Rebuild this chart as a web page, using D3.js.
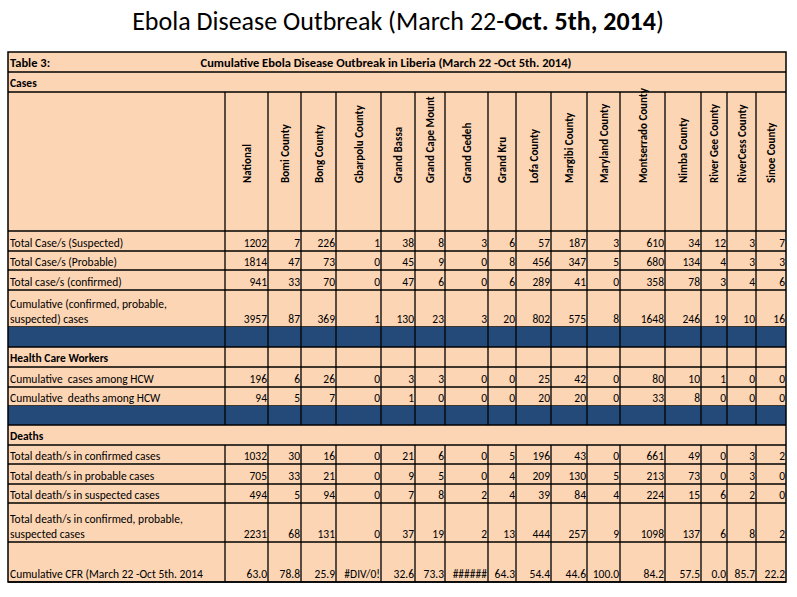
<!DOCTYPE html>
<html><head><meta charset="utf-8">
<script src="https://cdn.jsdelivr.net/npm/d3@7"></script>
<style>body{margin:0;background:#fff} text{white-space:pre}</style>
</head><body><svg width="797" height="597"></svg>
<script>
const counties = ["National","Bomi County","Bong County","Gbarpolu County","Grand Bassa","Grand Cape Mount","Grand Gedeh","Grand Kru","Lofa County","Margibi County","Maryland County","Montserrado County","Nimba County","River Gee County","RiverCess County","Sinoe County"];
const suspected = [1202,7,226,1,38,8,3,6,57,187,3,610,34,12,3,7];
const probable = [1814,47,73,0,45,9,0,8,456,347,5,680,134,4,3,3];
const confirmed = [941,33,70,0,47,6,0,6,289,41,0,358,78,3,4,6];
const cumulative = [3957,87,369,1,130,23,3,20,802,575,8,1648,246,19,10,16];
const hcwCases = [196,6,26,0,3,3,0,0,25,42,0,80,10,1,0,0];
const hcwDeaths = [94,5,7,0,1,0,0,0,20,20,0,33,8,0,0,0];
const deathConfirmed = [1032,30,16,0,21,6,0,5,196,43,0,661,49,0,3,2];
const deathProbable = [705,33,21,0,9,5,0,4,209,130,5,213,73,0,3,0];
const deathSuspected = [494,5,94,0,7,8,2,4,39,84,4,224,15,6,2,0];
const deathTotal = [2231,68,131,0,37,19,2,13,444,257,9,1098,137,6,8,2];
const cfr = ["63.0","78.8","25.9","#DIV/0!","32.6","73.3","######","64.3","54.4","44.6","100.0","84.2","57.5","0.0","85.7","22.2"];

const rows = [
  {type:"title", h:20},
  {type:"section", label:"Cases", h:20},
  {type:"header", h:139},
  {type:"data", label:["Total Case/s (Suspected)"], values:suspected, h:20},
  {type:"data", label:["Total Case/s (Probable)"], values:probable, h:19},
  {type:"data", label:["Total case/s (confirmed)"], values:confirmed, h:20},
  {type:"data", label:["Cumulative (confirmed, probable,","suspected) cases"], values:cumulative, h:37},
  {type:"band", h:20},
  {type:"sectionGrid", label:"Health Care Workers", h:20},
  {type:"data", label:["Cumulative  cases among HCW"], values:hcwCases, h:20},
  {type:"data", label:["Cumulative  deaths among HCW"], values:hcwDeaths, h:19},
  {type:"band", h:19},
  {type:"section", label:"Deaths", h:20},
  {type:"data", label:["Total death/s in confirmed cases"], values:deathConfirmed, h:19},
  {type:"data", label:["Total death/s in probable cases"], values:deathProbable, h:20},
  {type:"data", label:["Total death/s in suspected cases"], values:deathSuspected, h:19},
  {type:"data", label:["Total death/s in confirmed, probable,","suspected cases"], values:deathTotal, h:39},
  {type:"data", label:["Cumulative CFR (March 22 -Oct 5th. 2014"], values:cfr, h:40}
];
const colWidths = [217,43,33,35,45,34,30,43,28,35,36,33,45,36,26,29,30];

const svg = d3.select("svg");
const x0 = 8, y0 = 52;
const colX = [x0, ...d3.cumsum(colWidths).map(d => x0 + d)];
const rowY = [y0, ...d3.cumsum(rows.map(r => r.h)).map(d => y0 + d)];
const right = colX[colX.length - 1], bottom = rowY[rowY.length - 1];
const font = "Carlito, Lato, 'Open Sans', sans-serif";
const fill = "#fcd5b4", band = "#244a7a";

svg.append("text").attr("x", 398).attr("y", 30).attr("text-anchor", "middle")
  .attr("font-family", font).attr("font-size", 26)
  .call(t => { t.append("tspan").text("Ebola Disease Outbreak (March 22-");
               t.append("tspan").attr("font-weight", "bold").text("Oct. 5th, 2014");
               t.append("tspan").text(")"); });

const g = svg.append("g").attr("font-family", font).attr("font-size", 11.5).attr("fill", "#000");
g.append("rect").attr("x", x0).attr("y", y0).attr("width", right - x0).attr("height", bottom - y0).attr("fill", fill);

rows.forEach((r, i) => {
  const top = rowY[i], bot = rowY[i + 1];
  if (r.type === "band") g.append("rect").attr("x", x0).attr("y", top).attr("width", right - x0).attr("height", r.h).attr("fill", band);
  if (r.type === "title") {
    g.append("text").attr("x", x0 + 2).attr("y", bot - 5).attr("font-weight", "bold").attr("font-size", 12.5).text("Table 3:");
    g.append("text").attr("x", 386).attr("y", bot - 5).attr("text-anchor", "middle").attr("font-weight", "bold").attr("font-size", 12.5)
      .text("Cumulative Ebola Disease Outbreak in Liberia (March 22 -Oct 5th. 2014)");
  }
  if (r.type === "section" || r.type === "sectionGrid")
    g.append("text").attr("x", x0 + 2).attr("y", bot - 5).attr("font-weight", "bold").text(r.label);
  if (r.type === "header") {
    counties.forEach((c, j) => {
      const cx = (colX[j + 1] + colX[j + 2]) / 2 + 4;
      g.append("text").attr("transform", `translate(${cx},${bot - 48}) rotate(-90)`)
        .attr("font-weight", "bold").attr("font-size", 11).text(c);
    });
  }
  if (r.type === "data") {
    r.label.forEach((l, k) => g.append("text").attr("x", x0 + 2).attr("y", bot - 4 - (r.label.length - 1 - k) * 15).text(l));
    r.values.forEach((v, j) => g.append("text").attr("x", colX[j + 2] - 1).attr("y", bot - 4).attr("text-anchor", "end").text(v));
  }
  g.append("line").attr("x1", x0).attr("x2", right).attr("y1", bot).attr("y2", bot).attr("stroke", "#000").attr("stroke-width", 1.3);
  if (["header","data","band","sectionGrid"].includes(r.type)) {
    colX.slice(1, -1).forEach(cx => g.append("line").attr("x1", cx).attr("x2", cx).attr("y1", top).attr("y2", bot).attr("stroke", "#000").attr("stroke-width", 1.3));
  }
});
g.append("rect").attr("x", x0).attr("y", y0).attr("width", right - x0).attr("height", bottom - y0).attr("fill", "none").attr("stroke", "#000").attr("stroke-width", 1.5);
</script></body></html>
